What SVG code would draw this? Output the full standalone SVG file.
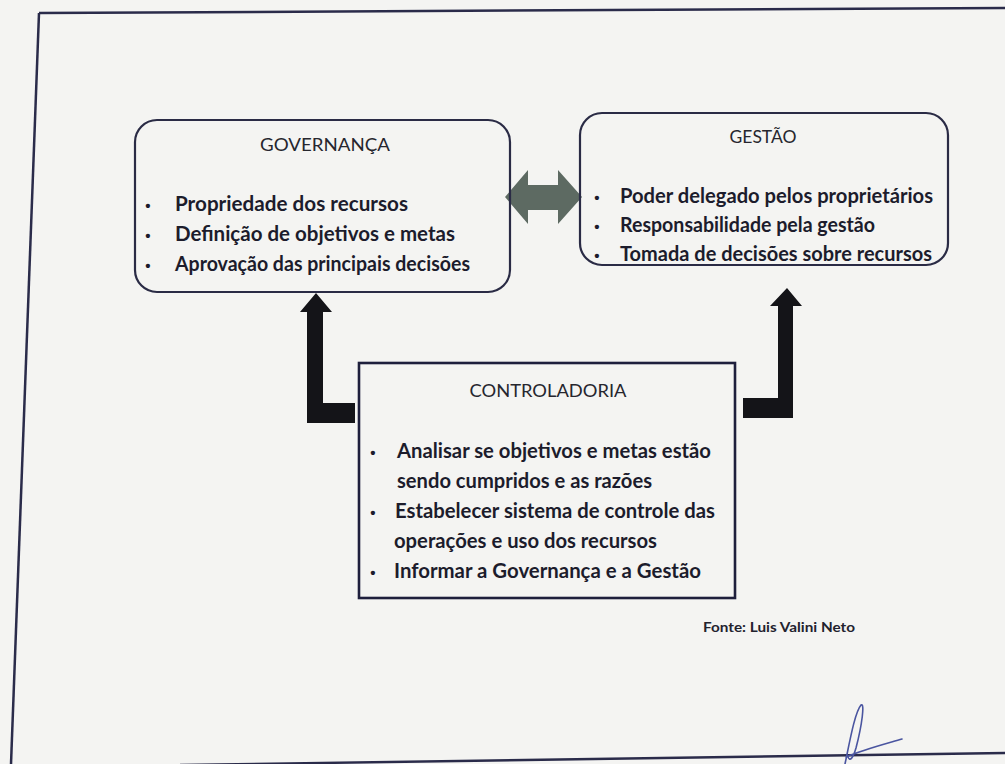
<svg xmlns="http://www.w3.org/2000/svg" width="1005" height="764" viewBox="0 0 1005 764">
<defs>
<style>
.box{fill:none;stroke:#2a2b45;stroke-width:2.2}
.ctl{fill:none;stroke:#1e1f3c;stroke-width:2.6}
.title{font-family:Lato,"Liberation Sans",sans-serif;font-size:18px;fill:#26262e}
.item{font-family:Lato,"Liberation Sans",sans-serif;font-size:20px;font-weight:bold;fill:#1c1c2c}
.bul{font-family:"Liberation Sans",sans-serif;font-size:15px;font-weight:bold;fill:#1c1c2c;text-anchor:middle}
.frame{stroke:#2a2b4a;stroke-width:2.5;fill:none}
.arrow{fill:#141418}
</style>
</defs>
<rect width="1005" height="764" fill="#f4f4f2"/>
<g id="page-frame">
<line class="frame" x1="39" y1="13" x2="1005" y2="8"/>
<line class="frame" x1="39" y1="13" x2="11" y2="764"/>
<line class="frame" x1="1005" y1="753" x2="180" y2="765"/>
</g>
<g id="connectors">
<polygon fill="#5d6a62" points="505,197 528,170 528,185 558,185 558,170 582,197 558,224 558,210 528,210 528,224"/>
<polygon class="arrow" points="316,293 332,312 323,312 323,403 355,403 355,423 307,423 307,312 300,312"/>
<polygon class="arrow" points="787,288 802,306 793,306 793,418 743,418 743,398 778,398 778,306 770,306"/>
</g>
<g id="governanca">
<rect class="box" x="135" y="120" width="375" height="172" rx="22"/>
<text class="title" x="325" y="151" text-anchor="middle" textLength="130" lengthAdjust="spacingAndGlyphs">GOVERNANÇA</text>
<text class="bul" x="148" y="211">•</text>
<text class="bul" x="148" y="241">•</text>
<text class="bul" x="148" y="271">•</text>
<text class="item" x="175" y="211" textLength="233" lengthAdjust="spacingAndGlyphs">Propriedade dos recursos</text>
<text class="item" x="175" y="241" textLength="280" lengthAdjust="spacingAndGlyphs">Definição de objetivos e metas</text>
<text class="item" x="175" y="271" textLength="295" lengthAdjust="spacingAndGlyphs">Aprovação das principais decisões</text>
</g>
<g id="gestao">
<rect class="box" x="580" y="113" width="368" height="152" rx="22"/>
<text class="title" x="763" y="143" text-anchor="middle" textLength="67" lengthAdjust="spacingAndGlyphs">GESTÃO</text>
<text class="bul" x="597" y="203">•</text>
<text class="bul" x="597" y="232">•</text>
<text class="bul" x="597" y="261">•</text>
<text class="item" x="620" y="203" textLength="313" lengthAdjust="spacingAndGlyphs">Poder delegado pelos proprietários</text>
<text class="item" x="620" y="232" textLength="255" lengthAdjust="spacingAndGlyphs">Responsabilidade pela gestão</text>
<text class="item" x="620" y="261" textLength="312" lengthAdjust="spacingAndGlyphs">Tomada de decisões sobre recursos</text>
</g>
<g id="controladoria">
<rect class="ctl" x="359" y="363" width="376" height="235"/>
<text class="title" x="548" y="397" text-anchor="middle" textLength="157" lengthAdjust="spacingAndGlyphs">CONTROLADORIA</text>
<text class="bul" x="373" y="458">•</text>
<text class="bul" x="373" y="518">•</text>
<text class="bul" x="373" y="578">•</text>
<text class="item" x="397" y="458" textLength="314" lengthAdjust="spacingAndGlyphs">Analisar se objetivos e metas estão</text>
<text class="item" x="397" y="488" textLength="255" lengthAdjust="spacingAndGlyphs">sendo cumpridos e as razões</text>
<text class="item" x="395" y="518" textLength="320" lengthAdjust="spacingAndGlyphs">Estabelecer sistema de controle das</text>
<text class="item" x="394" y="548" textLength="263" lengthAdjust="spacingAndGlyphs">operações e uso dos recursos</text>
<text class="item" x="394" y="578" textLength="307" lengthAdjust="spacingAndGlyphs">Informar a Governança e a Gestão</text>
</g>
<g id="fonte">
<text x="703" y="632" font-family="Lato,'Liberation Sans',sans-serif" font-size="14" font-weight="bold" fill="#22222e" textLength="152" lengthAdjust="spacingAndGlyphs">Fonte: Luis Valini Neto</text>
</g>
<g id="signature">
<path d="M845,764 C850,740 855,712 861,705 C865,702 862,725 856,748 C853,758 850,762 848,757 M846,757 C862,750 885,744 902,739" fill="none" stroke="#4a55a0" stroke-width="1.6" stroke-linecap="round"/>
</g>
</svg>
